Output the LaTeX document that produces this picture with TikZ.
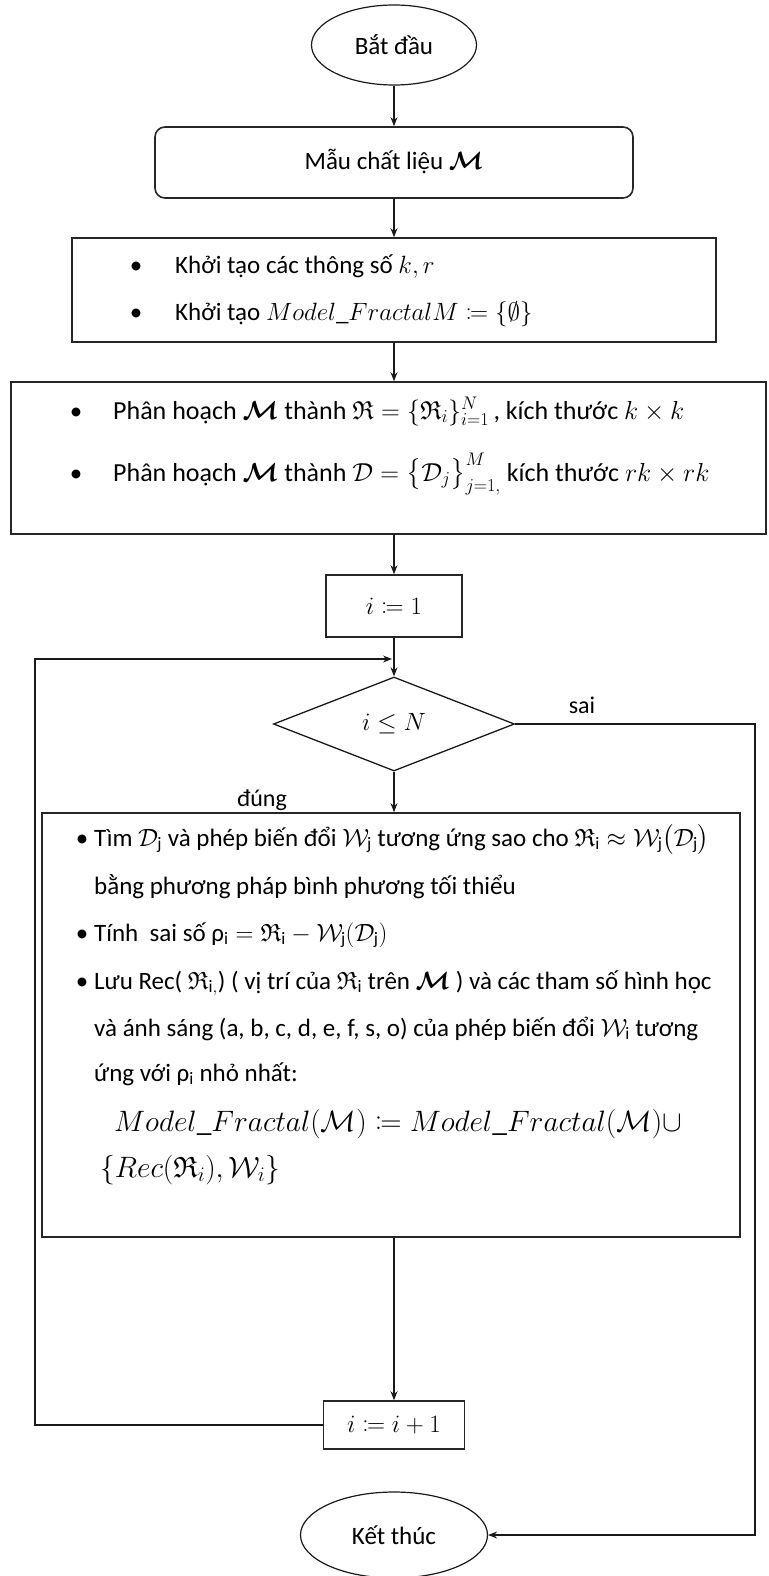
\RequirePackage{fix-cm}
\documentclass[tikz,border=0pt]{standalone}
\usepackage{amsmath,amssymb,mathtools,bm}
\usepackage{fontspec}
\setmainfont{Carlito}
\usetikzlibrary{shapes.geometric,arrows.meta}

\newcommand{\bM}{\bm{\mathcal{M}}}
\newcommand{\fR}{\mathfrak{R}}
\newcommand{\MF}{Model\_Fractal}

\begin{document}
\begin{tikzpicture}[x=1pt,y=-1pt,
  flowline/.style={line width=1.3pt,draw=black!90},
  arr/.style={flowline,-{Stealth[length=9pt,width=7pt]}},
  stepbox/.style={draw=black!85,line width=1.6pt,rectangle,inner sep=0pt},
  term/.style={draw=black!90,ellipse,line width=1.2pt,inner sep=0pt,font=\fontsize{25}{30}\selectfont},
  txt/.style={font=\fontsize{25}{30}\selectfont,inner sep=0pt,anchor=base west},
  bigtxt/.style={txt,font=\fontsize{26}{31}\selectfont},
  formula/.style={txt,font=\fontsize{29.5}{35}\selectfont},
  bul/.style={font=\fontsize{25}{30}\selectfont,inner sep=0pt,anchor=base},
  lbl/.style={font=\fontsize{24}{28}\selectfont,inner sep=0pt}]

\useasboundingbox (0,0) rectangle (768,1576);

% terminals and process boxes
\node[term,minimum width=165,minimum height=80] (start) at (394,45) {Bắt đầu};
\node[stepbox,rounded corners=10pt,minimum width=478,minimum height=71] (m) at (394,162.5) {};
\node[bul] (mt) at (394,169) {Mẫu chất liệu $\bM$};

\node[stepbox,minimum width=644,minimum height=104] (init) at (394,290) {};
\node[bul] (b1) at (136,273) {\textbullet};
\node[txt] (t1) at (175,273) {Khởi tạo các thông số $k,r$};
\node[bul] (b2) at (136,320) {\textbullet};
\node[txt] (t2) at (175,320) {Khởi tạo $Model\_FractalM\coloneqq\{\emptyset\}$};

\node[stepbox,minimum width=755,minimum height=152] (part) at (388.5,458) {};
\node[bul] (b3) at (76,419) {\textbullet};
\node[bigtxt] (t3) at (113,419) {Phân hoạch $\bM$ thành $\fR=\{\fR_i\}_{i=1}^{N}$\,, kích thước $k\times k$};
\node[bul] (b4) at (76,481) {\textbullet};
\node[bigtxt] (t4) at (113,481) {Phân hoạch $\bM$ thành $\mathcal{D}=\bigl\{\mathcal{D}_j\bigr\}_{j=1,}^{M}$ kích thước $rk\times rk$};

\node[stepbox,minimum width=136,minimum height=62,font=\fontsize{25}{30}\selectfont] (i1) at (394,606) {$i\coloneqq 1$};

\node[draw=black!90,diamond,line width=1.3pt,inner sep=0pt,minimum width=241,minimum height=94,
      font=\fontsize{25}{30}\selectfont] (dec) at (394,724) {$i\le N$};
\node[lbl] (sai) at (582,705) {sai};
\node[lbl] (dung) at (262,800) {đúng};

% loop body
\node[stepbox,minimum width=698,minimum height=424] (body) at (391,1025) {};
\node[bul] (b5) at (82,846) {\textbullet};
\node[txt] (t5) at (94,846) {Tìm $\mathcal{D}_{\mathrm{j}}$ và phép biến đổi $\mathcal{W}_{\mathrm{j}}$ tương ứng sao cho $\fR_{\mathrm{i}}\approx\mathcal{W}_{\mathrm{j}}\bigl(\mathcal{D}_{\mathrm{j}}\bigr)$};
\node[txt] (t6) at (94,894) {bằng phương pháp bình phương tối thiểu};
\node[bul] (b7) at (82,941) {\textbullet};
\node[txt] (t7) at (94,941) {Tính\ \ sai số ρ$_{\mathrm{i}}=\fR_{\mathrm{i}}-\mathcal{W}_{\mathrm{j}}(\mathcal{D}_{\mathrm{j}})$};
\node[bul] (b8) at (82,989) {\textbullet};
\node[txt] (t8) at (94,989) {Lưu Rec( $\fR_{\mathrm{i},}$) ( vị trí của $\fR_{\mathrm{i}}$ trên $\bM$ ) và các tham số hình học};
\node[txt] (t9) at (94,1036) {và ánh sáng (a, b, c, d, e, f, s, o) của phép biến đổi $\mathcal{W}_{\mathrm{i}}$ tương};
\node[txt] (t10) at (94,1081) {ứng với ρ$_{\mathrm{i}}$ nhỏ nhất:};
\node[formula] (t11) at (114,1131) {$\MF(\mathcal{M})\coloneqq\MF(\mathcal{M})\cup$};
\node[formula] (t12) at (100,1177) {$\{Rec(\fR_i),\mathcal{W}_i\}$};

\node[stepbox,minimum width=141,minimum height=48,font=\fontsize{25}{30}\selectfont] (inc) at (394,1425) {$i\coloneqq i+1$};
\node[term,minimum width=187,minimum height=86] (end) at (394,1535) {Kết thúc};

% connectors
\coordinate (lcorner) at (35,659);
\coordinate (ljoin) at (392,659);
\coordinate (rcorner) at (755,1535);

\draw[arr] (start.south) -- (m.north);
\draw[arr] (m.south) -- (init.north);
\draw[arr] (init.south) -- (init.south |- part.north);
\draw[arr] (part.south -| i1.north) -- (i1.north);
\draw[arr] (i1.south) -- (dec.north);
\draw[arr] (dec.south) -- (dec.south |- body.north);
\draw[arr] (body.south -| inc.north) -- (inc.north);
\draw[arr] (inc.west) -| (lcorner) -- (ljoin);
\draw[arr] (dec.east) -| (rcorner) -- (end.east);
\end{tikzpicture}
\end{document}
